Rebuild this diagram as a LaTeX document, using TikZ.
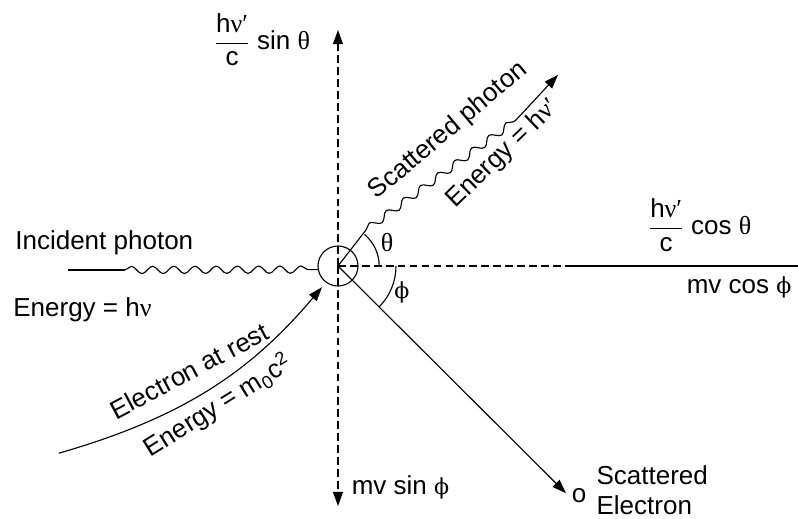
\documentclass[tikz,border=0pt]{standalone}
\usepackage{amsmath}
\usepackage{fontspec}
\setmainfont{Liberation Sans}
\newfontfamily\grk{Liberation Serif}
\newfontfamily\phifont{DejaVu Serif}[Scale=0.85]
\usepackage{tikz}
\usetikzlibrary{arrows.meta, decorations.pathmorphing}
\newcommand{\phisym}{{\phifont ϕ}}

\begin{document}
\begin{tikzpicture}[>={Triangle[length=10pt, width=7pt]}, line width=0.8pt,
    font=\fontsize{18.5}{21.3}\selectfont,
    dashaxis/.style={dash pattern=on 5.5pt off 3pt},
    wavy/.style={decorate, decoration={snake, segment length=0.53cm, amplitude=2.6pt}},
    lbl/.style={inner sep=0pt}]
    \useasboundingbox (-8.45,-6.3) rectangle (11.5,6.65);

    % Electron (collision point)
    \node[draw, circle, minimum size=1cm, inner sep=0pt] (e) at (0,0) {};

    % Dashed axes
    \coordinate (top) at (0,5.9);
    \coordinate (bot) at (0,-6.0);
    \coordinate (hmid) at (5.8,0);
    \coordinate (hend) at (11.5,0);
    \draw[dashaxis, ->] (e.center) -- (top);
    \draw[dashaxis, ->] (e.center) -- (bot);
    \draw[dashaxis] (e.center) -- (hmid);
    \draw (hmid) -- (hend);

    % Incident photon
    \coordinate (inc0) at (-6.75,-0.1);
    \coordinate (inc1) at (-5.33,-0.1);
    \draw (inc0) -- (inc1);
    \draw[wavy] (inc1) -- (e.190);
    \node[lbl, anchor=west] (inctxt) at (-8.08,0.58) {Incident photon};
    \node[lbl, anchor=west] (incen) at (-8.13,-1.1) {Energy = h{\grk ν}};

    % Scattered photon
    \coordinate (sp1) at (0.7,0.9);
    \coordinate (sp2) at (4.45,3.65);
    \coordinate (sptip) at (5.5,4.78);
    \draw (e.center) -- (sp1);
    \draw[wavy] (sp1) -- (sp2);
    \draw[->] (sp2) -- (sptip);
    \node[rotate=40] (sptxt) at (2.76,3.38) {Scattered photon};
    \node[rotate=44] (spen) at (4.12,2.8) {Energy = h{\grk ν′}};

    % Electron at rest
    \coordinate (rest) at (-6.98,-4.68);
    \coordinate (resttip) at (-0.4,-0.53);
    \draw[->] (rest) .. controls (-3.85,-3.78) and (-2.18,-2.63) .. (resttip);
    \node[rotate=28] (resttxt) at (-3.72,-2.62) {Electron at rest};
    \node[rotate=32] (resten) at (-3.0,-3.5) {Energy = m\textsubscript{0}c\textsuperscript{2}};

    % Scattered electron
    \coordinate (eltip) at (5.7,-5.68);
    \draw[->] (e.center) -- (eltip);
    \node[lbl] (o) at (6.03,-5.73) {o};
    \node[lbl, anchor=west, align=left] (scel) at (6.45,-5.6) {Scattered\\Electron};

    % Angles
    \draw (1.03,0) arc[start angle=0, end angle=50, radius=1.03];
    \draw (1.45,0) arc[start angle=0, end angle=-45, radius=1.45];
    \node[lbl] (theta) at (1.23,0.58) {\grk θ};
    \node[lbl] (phi) at (1.6,-0.65) {\phisym};

    % Momentum components
    \node[lbl, anchor=west] (psin) at (-3.1,5.65) {$\dfrac{\mbox{h{\grk ν′}}}{\mbox{c}}$ sin {\grk θ}};
    \node[lbl, anchor=west] (pcos) at (7.75,1.02) {$\dfrac{\mbox{h{\grk ν′}}}{\mbox{c}}$ cos {\grk θ}};
    \node[lbl, anchor=east] (mvcos) at (11.35,-0.53) {mv cos \phisym};
    \node[lbl, anchor=west] (mvsin) at (0.33,-5.53) {mv sin \phisym};

\end{tikzpicture}
\end{document}
